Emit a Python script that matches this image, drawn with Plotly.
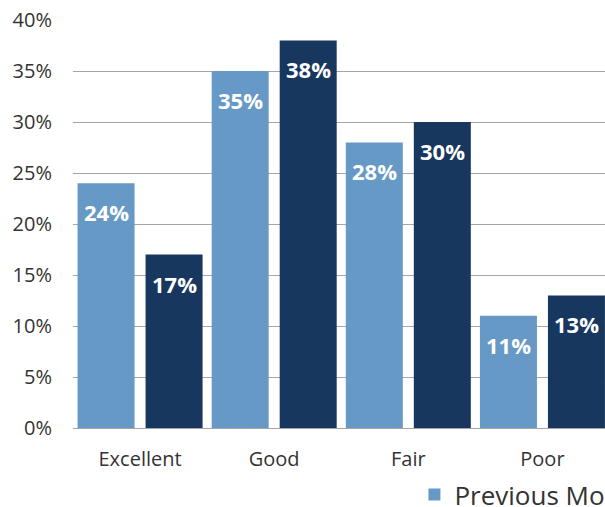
import plotly.graph_objects as go

# Survey rating distribution, previous vs current month (share of responses, %)
categories = ["Excellent", "Good", "Fair", "Poor"]
previous_month = [24, 35, 28, 11]
current_month = [17, 38, 30, 13]
series_names = ["Previous Month", "Current Month"]
y_ticks = [0, 5, 10, 15, 20, 25, 30, 35, 40]

LIGHT = "#6699C6"
DARK = "#18375E"
FONT = "Open Sans"

BAR_W = 0.425
OFFSETS = [-0.466, 0.041]

fig = go.Figure()
for name, vals, color, off in zip(series_names, [previous_month, current_month],
                                  [LIGHT, DARK], OFFSETS):
    fig.add_trace(go.Bar(
        x=categories, y=vals, name=name, marker_color=color,
        marker_line_width=0, width=BAR_W, offset=off,
    ))

# white value labels just inside the top of each bar
for vals, off in zip([previous_month, current_month], OFFSETS):
    for i, v in enumerate(vals):
        fig.add_annotation(
            x=i + off + BAR_W / 2, y=v, xref="x", yref="y",
            text=f"<b>{v}%</b>", showarrow=False,
            yanchor="top", yshift=-12,
            font=dict(family=FONT, size=22, color="white"),
        )

fig.update_layout(
    width=605, height=507,
    margin=dict(l=73, r=0, t=20, b=79),
    paper_bgcolor="white", plot_bgcolor="white",
    barmode="overlay",
    font=dict(family=FONT, size=20, color="#333333"),
    showlegend=True,
    legend=dict(
        orientation="h",
        xref="container", x=0.685, xanchor="left",
        yref="container", y=0.071, yanchor="top",
        font=dict(family=FONT, size=26, color="#333333"),
        itemclick=False,
    ),
    xaxis=dict(
        range=[-0.5, 3.5 - 4.5 / 134],
        showgrid=False, showline=True, linecolor="#A6A6A6", linewidth=1,
        ticks="", tickfont=dict(size=20, color="#333333"),
        ticklabelstandoff=13,
    ),
    yaxis=dict(
        range=[0, 40], tickvals=y_ticks, ticktext=[f"{t}%" for t in y_ticks],
        showgrid=True, gridcolor="#A6A6A6", gridwidth=1,
        zeroline=False, showline=False, ticks="",
        tickfont=dict(size=20, color="#333333"),
        ticklabelstandoff=20,
    ),
)

fig.write_html("out.html")
